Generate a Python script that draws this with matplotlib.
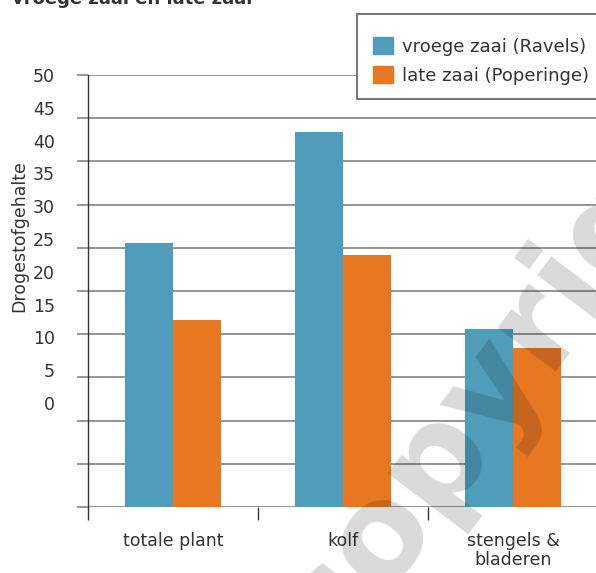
import matplotlib.pyplot as plt
import numpy as np
from matplotlib.patches import Rectangle, Patch

# gegevens
categorieen = ['totale plant', 'kolf', 'stengels &\nbladeren']
vroege_zaai = [30.5, 43.4, 20.6]
late_zaai = [21.6, 29.2, 18.4]
reeksen = ['vroege zaai (Ravels)', 'late zaai (Poperinge)']
ytick_labels = ['0', '5', '10', '15', '20', '25', '30', '35', '40', '45', '50']

blauw = '#4f9dbb'
oranje = '#e87722'
tekst = '#333333'
grijs = '#8c8c8c'

W, H = 596, 573
fig = plt.figure(figsize=(W / 100, H / 100), dpi=100)
ax = fig.add_axes([88 / W, 66 / H, 510 / W, 432 / H])

x = np.arange(len(categorieen)) + 0.5
breedte = 0.282
ax.bar(x - breedte / 2, vroege_zaai, breedte, color=blauw, zorder=3)
ax.bar(x + breedte / 2, late_zaai, breedte, color=oranje, zorder=3)

ax.set_xlim(0, 3)
ax.set_ylim(0, 50)

# rasterlijnen om de 5 (als minor ticks, steken links uit)
ax.set_yticks(np.arange(0, 51, 5), minor=True)
ax.grid(True, which='minor', axis='y', color=grijs, lw=1.3, zorder=1)
ax.tick_params(axis='y', which='minor', length=8, width=1.3, color=grijs, direction='out')

# de getallen staan verschoven t.o.v. de rasterlijnen, zoals in het origineel
label_pos = 12.04 + 0.759 * np.arange(0, 51, 5)
ax.set_yticks(label_pos)
ax.set_yticklabels(ytick_labels)
ax.tick_params(axis='y', which='major', length=0, pad=24, labelsize=12.5, labelcolor=tekst)

# categoriegrenzen en labels
ax.set_xticks([0, 1, 2, 3])
ax.set_xticklabels([])
ax.tick_params(axis='x', which='major', length=9.5, width=1, color=tekst, direction='out')
ax.set_xticks(x, minor=True)
ax.set_xticklabels(categorieen, minor=True, linespacing=1.1)
ax.tick_params(axis='x', which='minor', length=0, pad=18, labelsize=12.5, labelcolor=tekst)

for s in ['top', 'right', 'bottom']:
    ax.spines[s].set_visible(False)
ax.spines['left'].set_color(tekst)
ax.spines['left'].set_linewidth(1)
ax.spines['left'].set_zorder(4)

fig.text(19 / W, 1 - 236 / H, 'Drogestofgehalte', rotation=90, ha='center', va='center',
         fontsize=12.5, color=tekst)

# titel, bovenaan afgesneden
fig.text(12 / W, 1 - 4 / H, 'vroege zaai en late zaai', ha='left', va='baseline',
         fontsize=13, fontweight='bold', color=tekst)

# legenda met kader dat rechts buiten beeld loopt
kader = Rectangle((357 / W, 1 - 99 / H), 260 / W, 85 / H, transform=fig.transFigure,
                  facecolor='white', edgecolor='#777777', lw=1.5, zorder=5, clip_on=False)
fig.patches.append(kader)
handles = [Patch(color=blauw), Patch(color=oranje)]
leg = fig.legend(handles, reeksen, loc='upper left', bbox_to_anchor=(364 / W, 1 - 28 / H),
                 frameon=False, fontsize=13, handlelength=1.1, handleheight=1.1,
                 handletextpad=0.5, labelspacing=0.55, borderpad=0, labelcolor=tekst)
leg.set_zorder(6)

# watermerk
fig.text(335 / W, -85 / H, 'copyright', rotation=53, fontsize=96, fontweight='bold',
         color='black', alpha=0.15, ha='left', va='baseline', zorder=10, rotation_mode='anchor')

fig.savefig('out.png', dpi=100)
